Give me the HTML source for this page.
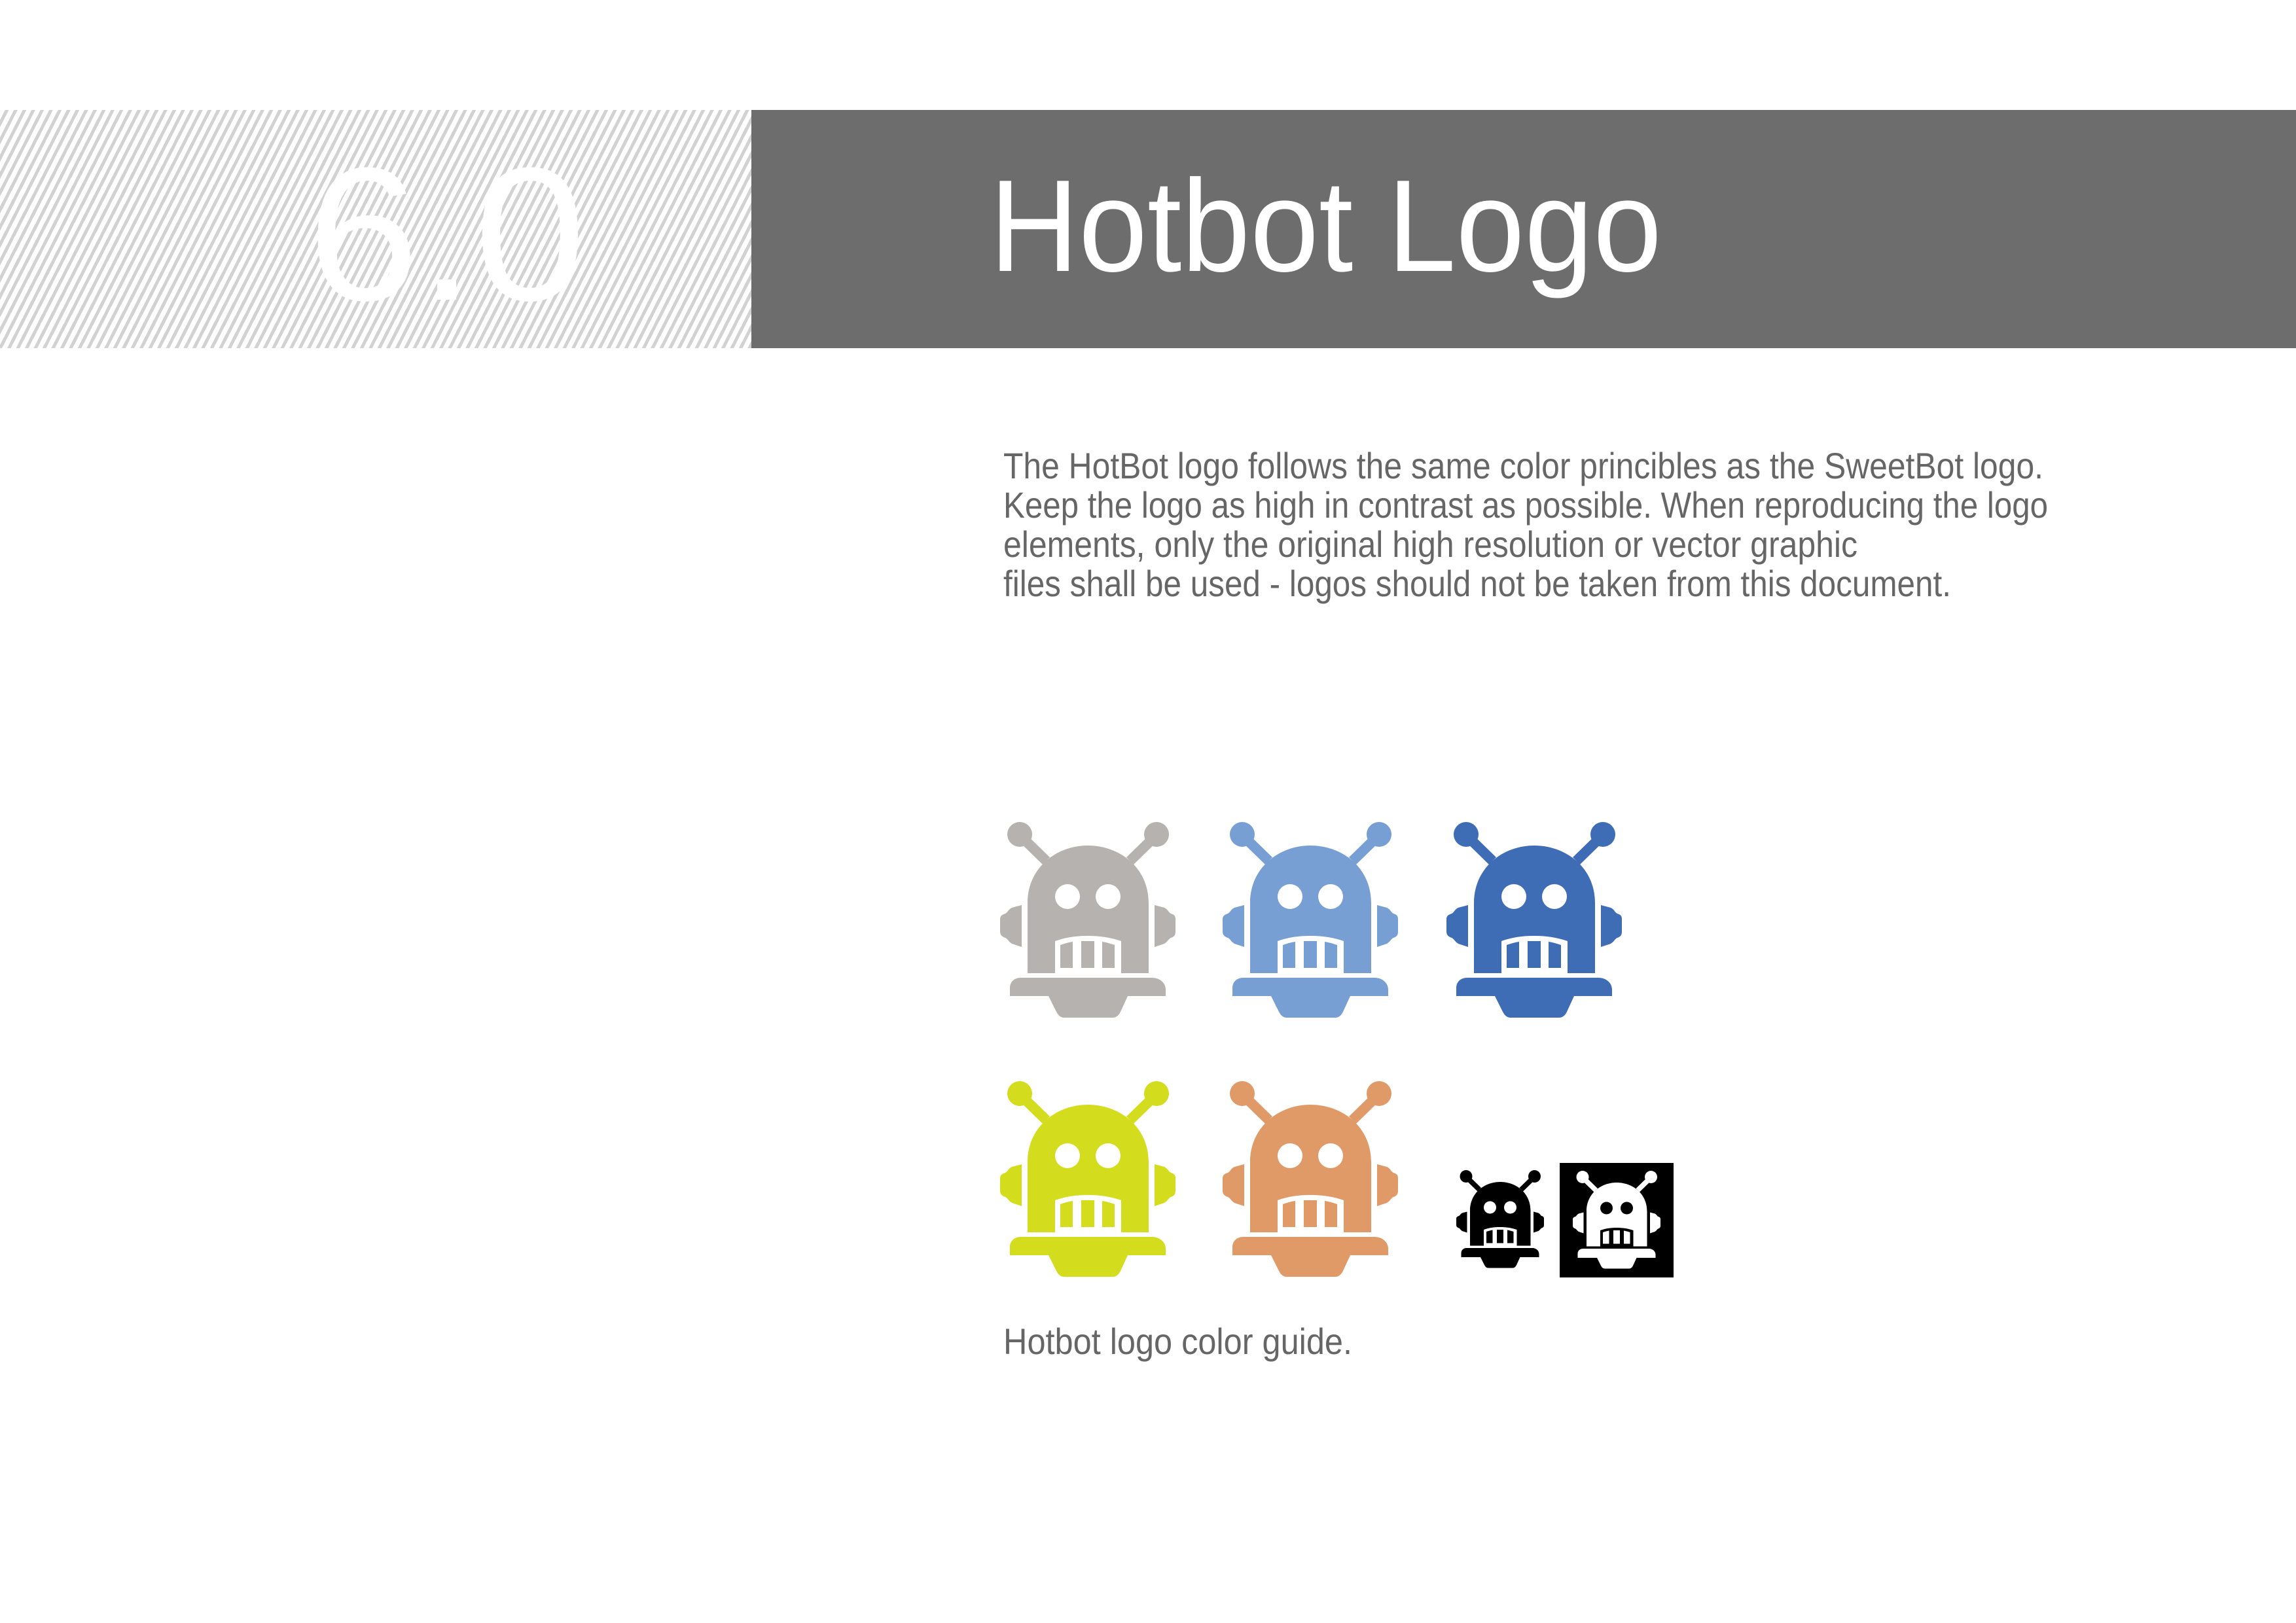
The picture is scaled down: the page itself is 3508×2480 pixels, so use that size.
<!DOCTYPE html>
<html><head><meta charset="utf-8"><style>
html,body{margin:0;padding:0;background:#fff;}
svg{display:block;}
.hatch{position:absolute;left:0;top:168px;width:1148px;height:364px;
background:repeating-linear-gradient(117deg,#fff 0px,#fff 7px,#d2d2d2 7px,#d2d2d2 12px);}
</style></head><body>
<div style="position:relative;width:3508px;height:2480px;overflow:hidden;">
<div class="hatch"></div>
<svg width="3508" height="2480" viewBox="0 0 3508 2480" style="position:absolute;left:0;top:0">
<rect x="1148" y="168" width="2360" height="364" fill="#6d6d6d"/>
<text x="470" y="458" font-family="Liberation Sans, sans-serif" font-size="290" fill="#fff" textLength="425" lengthAdjust="spacingAndGlyphs">6.0</text>
<text x="1512" y="414" font-family="Liberation Sans, sans-serif" font-size="200" fill="#fff" textLength="1027" lengthAdjust="spacingAndGlyphs">Hotbot Logo</text>
<g font-family="Liberation Sans, sans-serif" font-size="56" fill="#666">
<text x="1533" y="731" textLength="1589" lengthAdjust="spacingAndGlyphs">The HotBot logo follows the same color princibles as the SweetBot logo.</text>
<text x="1533" y="791" textLength="1596" lengthAdjust="spacingAndGlyphs">Keep the logo as high in contrast as possible. When reproducing the logo</text>
<text x="1533" y="851" textLength="1305" lengthAdjust="spacingAndGlyphs">elements, only the original high resolution or vector graphic</text>
<text x="1533" y="911" textLength="1448" lengthAdjust="spacingAndGlyphs">files shall be used - logos should not be taken from this document.</text>
<text x="1533" y="2069" textLength="533" lengthAdjust="spacingAndGlyphs">Hotbot logo color guide.</text>
</g>
</svg>
<svg width="3508" height="2480" viewBox="0 0 3508 2480" style="position:absolute;left:0;top:0">
<defs>
<symbol id="R" viewBox="0 0 320 350" overflow="visible">
<circle cx="48" cy="45" r="19"/>
<circle cx="257" cy="45" r="19"/>
<path d="M42,51 L53,40 L94,80 L83,91 Z"/>
<path d="M263,51 L252,40 L211,80 L222,91 Z"/>
<path d="M60,257 L60,150 C60,95 105,62 152,62 C200,62 245,95 245,150 L245,257 L203,257 L203,208 C185,202 170,200 152,200 C134,200 119,202 102,208 L102,257 Z"/>
<path d="M110,249 L110,214 C116,212 122,210 129,209 L129,249 Z M142,249 L142,208 L162,208 L162,249 Z M174,249 L174,209 C181,210 187,212 193,214 L193,249 Z"/>
<circle cx="121" cy="140" r="19" fill="var(--e)"/>
<circle cx="183" cy="140" r="19" fill="var(--e)"/>
<path d="M51,153 L51,217 L36,212 C30,208 30,205 26,203 C20,201 18,198 18,193 L18,175 C18,170 20,168 26,166 C30,164 30,160 36,157 Z"/>
<path d="M254,153 L254,217 L269,212 C275,208 275,205 279,203 C285,201 286,198 286,193 L286,175 C286,170 285,168 279,166 C275,164 275,160 269,157 Z"/>
<path d="M33,292 L33,280 C33,270 40,264 50,264 L250,264 C262,264 271,272 271,282 L271,292 L213,292 L202,316 C199,322 195,325 190,325 L116,325 C111,325 107,322 104,316 L92,292 Z"/>
</symbol>
</defs>
<use href="#R" x="1510" y="1230" width="320" height="350" fill="#b5b2af" style="--e:#fff"/>
<use href="#R" x="1850" y="1230" width="320" height="350" fill="#789fd3" style="--e:#fff"/>
<use href="#R" x="2192" y="1230" width="320" height="350" fill="#3f6db5" style="--e:#fff"/>
<use href="#R" x="1510" y="1626" width="320" height="350" fill="#d4dc1e" style="--e:#fff"/>
<use href="#R" x="1850" y="1626" width="320" height="350" fill="#e09a68" style="--e:#fff"/>
<use href="#R" x="2216" y="1775" width="160" height="175" fill="#000" style="--e:#fff"/>
<rect x="2383" y="1777" width="174" height="175" fill="#000"/>
<use href="#R" x="2394" y="1776" width="160" height="175" fill="#fff" style="--e:#000"/>
</svg>
</div>
</body></html>
